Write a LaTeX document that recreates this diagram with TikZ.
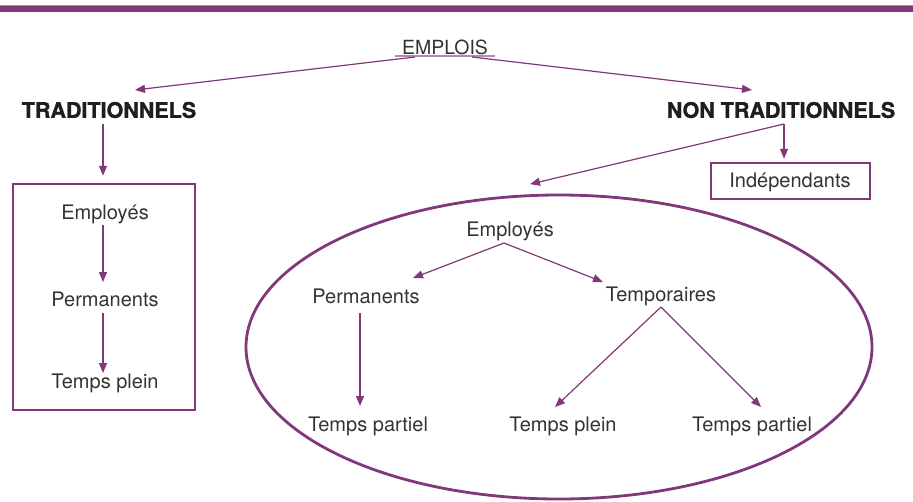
\documentclass[tikz,border=0pt]{standalone}
\usepackage{fontspec}
\setmainfont{TeX Gyre Heros}
\newfontfamily\heavyfont[FakeBold=1.2]{TeX Gyre Heros}
\usetikzlibrary{arrows.meta,shapes.geometric}
\definecolor{pur}{HTML}{80387A}
\definecolor{purlight}{HTML}{B88AB3}
\definecolor{txt}{HTML}{333333}
\definecolor{head}{HTML}{1E1E1E}
\tikzset{
  conn/.style={draw=pur,line width=1.2pt,-{Triangle[length=10pt,width=8pt]}},
  lbl/.style={inner sep=0pt,text=txt,font=\fontsize{20pt}{24pt}\selectfont},
  headlbl/.style={inner sep=0pt,text=head,font=\heavyfont\fontsize{21.5pt}{26pt}\selectfont\bfseries},
  boxframe/.style={draw=pur,line width=2.5pt,inner sep=0pt},
}
\begin{document}
\begin{tikzpicture}[x=1pt,y=-1pt]
\useasboundingbox (0,0) rectangle (913,501);
% top bar
\fill[purlight] (0,4.5) rectangle (913,6);
\fill[pur] (0,6) rectangle (913,11.5);

% nodes
\node[lbl,font=\fontsize{19.5pt}{24pt}\selectfont] (emplois) at (445,47) {EMPLOIS};
\node[headlbl] (trad) at (109,110) {TRADITIONNELS};
\node[headlbl] (nontrad) at (781,110) {NON TRADITIONNELS};

\node[boxframe,minimum width=182pt,minimum height=226pt] (tradbox) at (104,297) {};
\node[lbl] (emp1) at (105,214) {Employés};
\node[lbl] (perm1) at (105,299) {Permanents};
\node[lbl] (plein1) at (105,383.5) {Temps plein};

\node[boxframe,minimum width=159pt,minimum height=36pt] (indepbox) at (790.5,181) {};
\node[lbl] (indep) at (790,182) {Indépendants};

\node[ellipse,draw=pur,line width=2.8pt,minimum width=626pt,minimum height=304pt,inner sep=0pt] (ell) at (559,347) {};
\node[lbl] (emp2) at (510,231) {Employés};
\node[lbl] (perm2) at (366,296.5) {Permanents};
\node[lbl] (tempo) at (661,296.5) {Temporaires};
\node[lbl] (partiel1) at (368,426.5) {Temps partiel};
\node[lbl] (plein2) at (563,426.5) {Temps plein};
\node[lbl] (partiel2) at (752,426.5) {Temps partiel};

% underline of EMPLOIS
\draw[purlight,line width=1.6pt] ([shift={(-50,9)}]emplois.center) -- ([shift={(50,9)}]emplois.center);

% connectors
\draw[conn] ([shift={(-30,10)}]emplois.center) -- ([shift={(26,-20)}]trad.center);
\draw[conn] ([shift={(27,10)}]emplois.center) -- ([shift={(-29,-20)}]nontrad.center);
\draw[conn] ([shift={(-6,14)}]trad.center) -- ([shift={(-1,-7)}]tradbox.north);
\draw[conn] ([shift={(-2,11)}]emp1.center) -- ([shift={(-2,-17)}]perm1.center);
\draw[conn] ([shift={(-2,14)}]perm1.center) -- ([shift={(-2,-10.5)}]plein1.center);

\coordinate (corner) at ([shift={(3,14)}]nontrad.center);
\draw[conn] (corner) -- ([shift={(-6.5,-3)}]indepbox.north);
\draw[conn] (corner) -- ([shift={(-29,-9.5)}]ell.north);

\draw[conn] ([shift={(-6,12)}]emp2.center) -- ([shift={(47,-18.5)}]perm2.center);
\draw[conn] ([shift={(-6,12)}]emp2.center) -- ([shift={(-58,-14.5)}]tempo.center);
\draw[conn] ([shift={(-6,16.5)}]perm2.center) -- ([shift={(-8,-20.5)}]partiel1.center);
\draw[conn] ([shift={(0,10.5)}]tempo.center) -- ([shift={(-8,-19.5)}]plein2.center);
\draw[conn] ([shift={(0,10.5)}]tempo.center) -- ([shift={(9,-19.5)}]partiel2.center);
\end{tikzpicture}
\end{document}
